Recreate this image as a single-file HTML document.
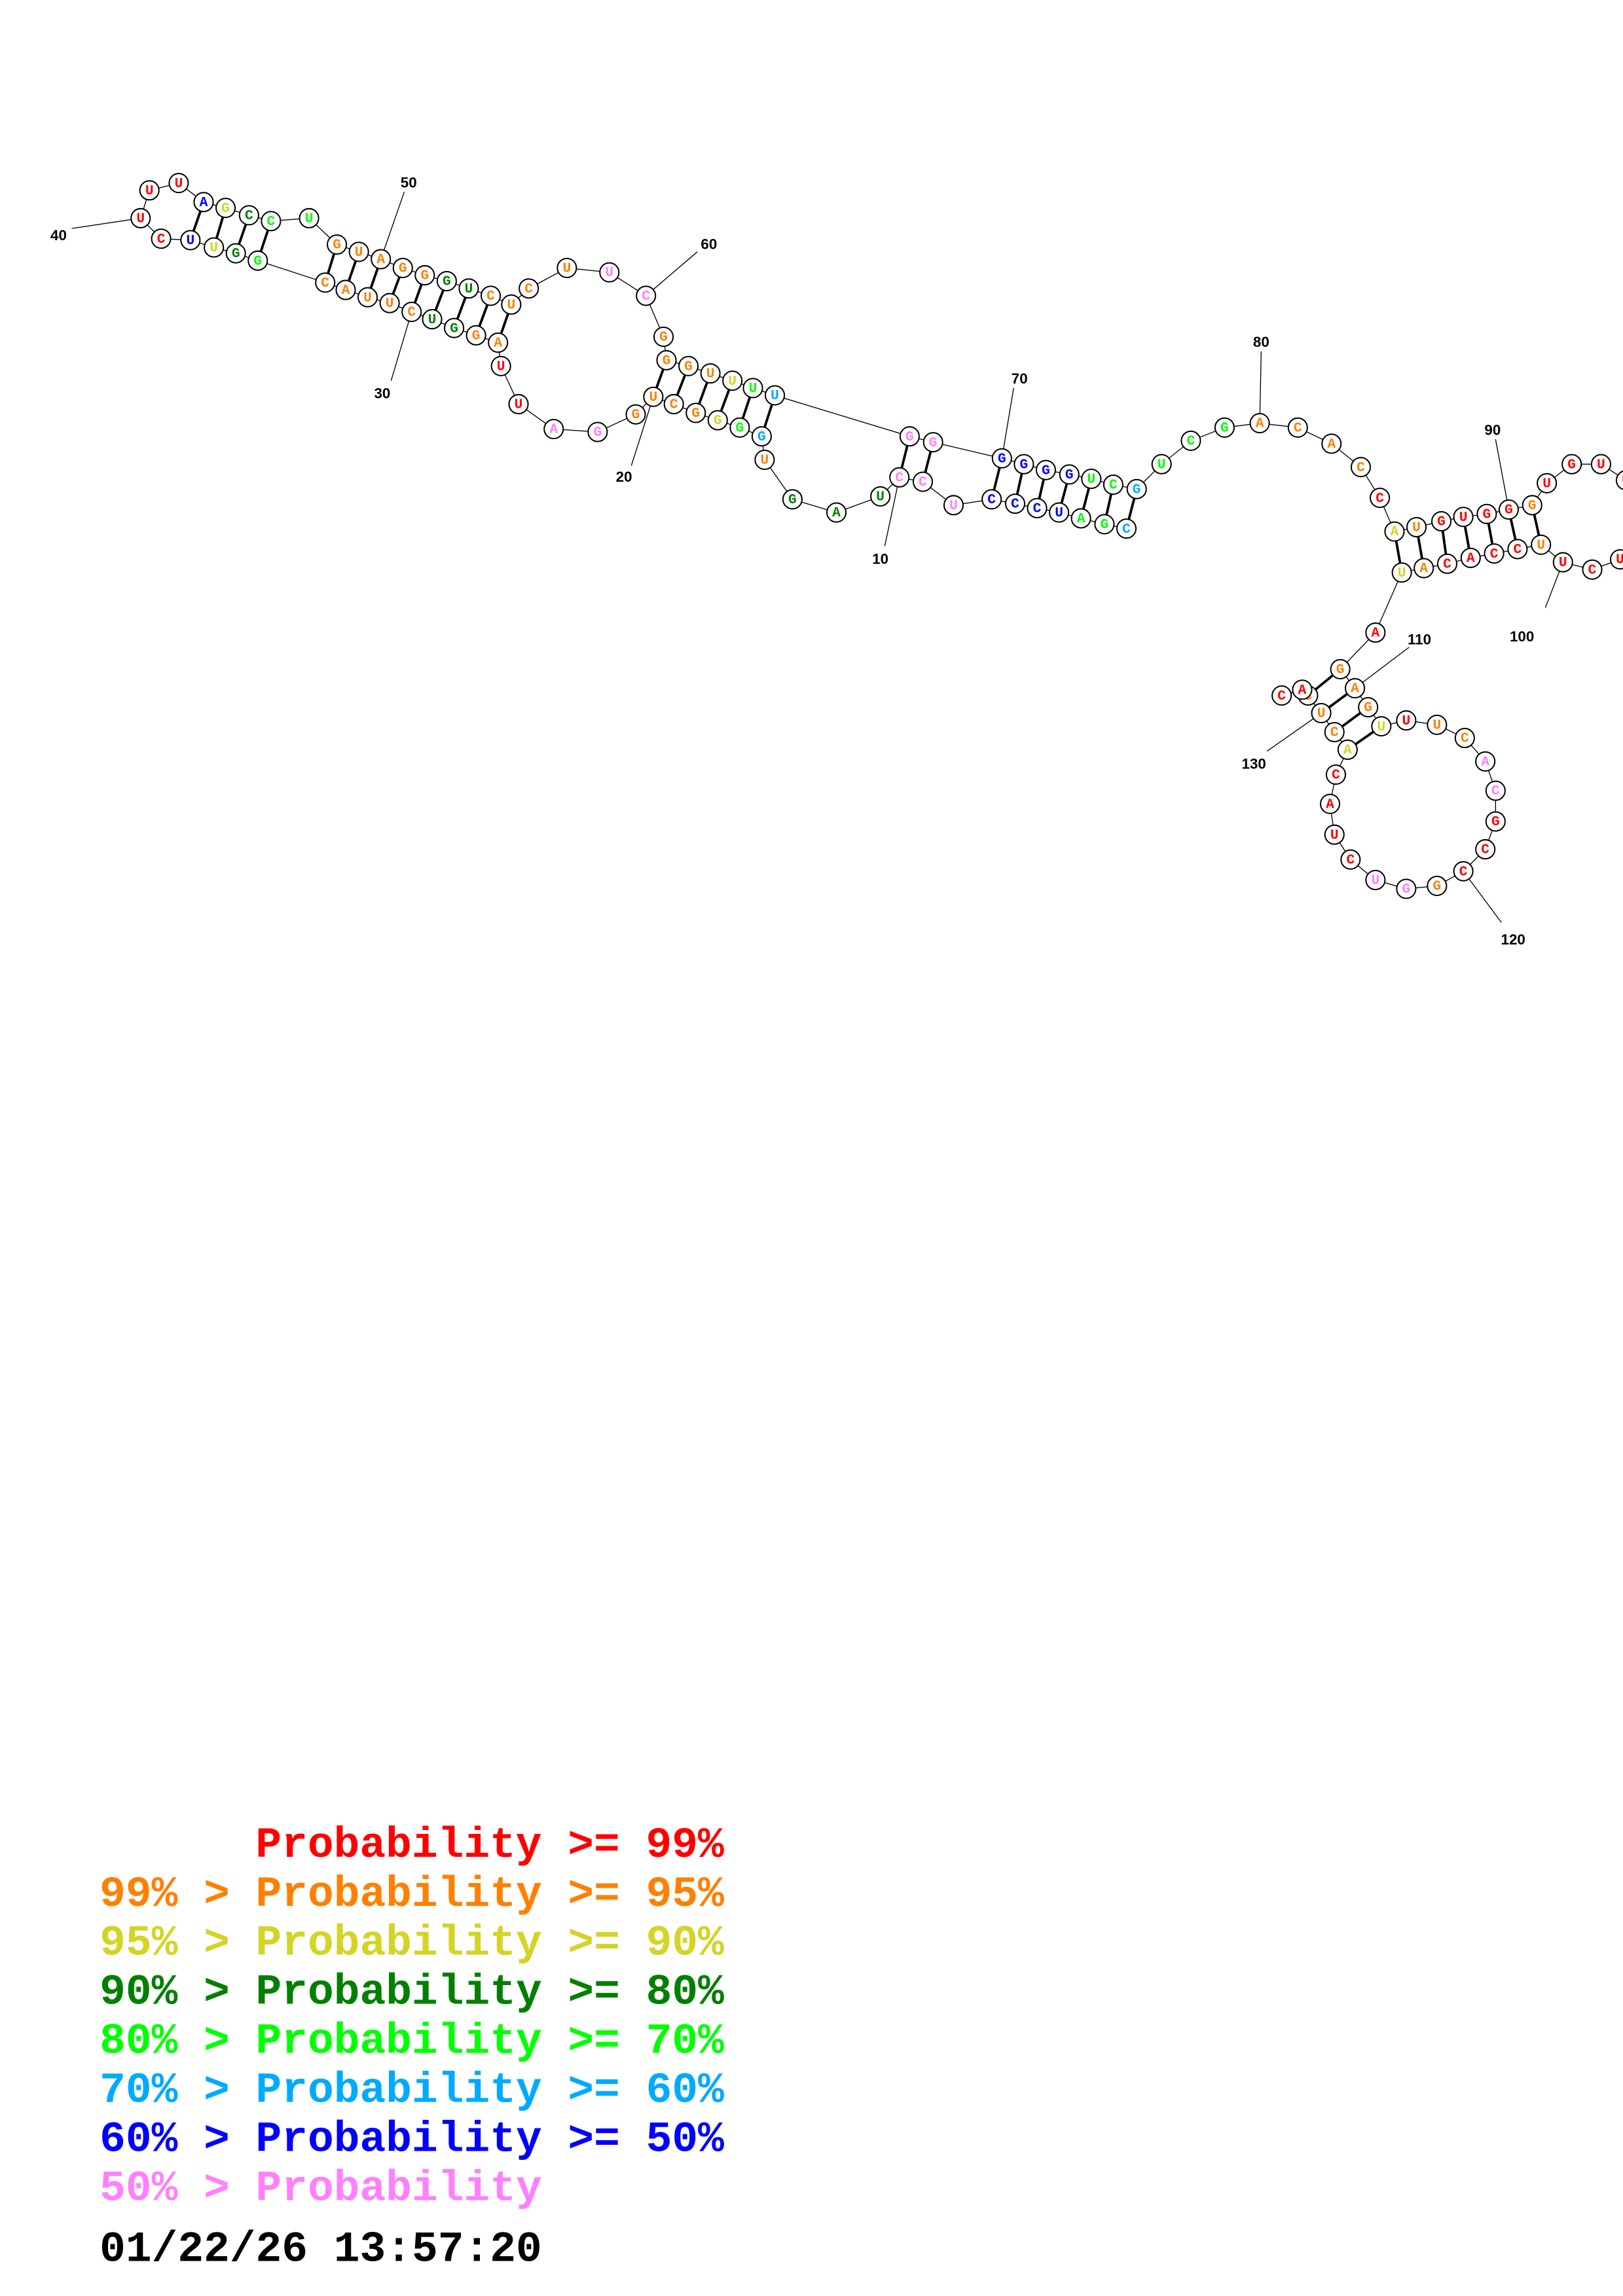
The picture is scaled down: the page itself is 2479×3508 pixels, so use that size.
<!DOCTYPE html>
<html><head><meta charset="utf-8"><style>
html,body{margin:0;padding:0;background:#fff;}
svg{display:block;}
.n circle{fill:#fff;stroke:#000;stroke-width:0.9;}
.n text{font-family:"Liberation Mono",monospace;font-weight:bold;font-size:9.5px;text-anchor:middle;dominant-baseline:central;}
.R{fill:#ff0000}.O{fill:#ff8000}.Y{fill:#d4d426}.D{fill:#008000}.G{fill:#00ff00}.L{fill:#00aaff}.B{fill:#0000ff}.P{fill:#ff80ff}.K{fill:#000}
.lbl{font-family:"Liberation Sans",sans-serif;font-weight:bold;font-size:10px;text-anchor:middle;fill:#000;}
.leg{font-family:"Liberation Mono",monospace;font-weight:bold;font-size:29.6px;}
</style></head><body>
<svg width="2479" height="3508" viewBox="0 0 1108 1568" preserveAspectRatio="none" xmlns="http://www.w3.org/2000/svg">
<rect width="1108" height="1568" fill="#fff"/>
<!-- label lines -->
<g stroke="#000" stroke-width="0.6">
<line x1="604" y1="373" x2="614" y2="326"/>
<line x1="431" y1="318" x2="446" y2="271"/>
<line x1="267" y1="260" x2="281" y2="213"/>
<line x1="49" y1="156" x2="96" y2="149"/>
<line x1="276" y1="131" x2="260" y2="177"/>
<line x1="476" y1="172" x2="441" y2="202"/>
<line x1="692" y1="265" x2="684" y2="313"/>
<line x1="861" y1="240" x2="860" y2="289"/>
<line x1="1021" y1="300" x2="1030" y2="348"/>
<line x1="1055" y1="415" x2="1067" y2="384"/>
<line x1="962" y1="442" x2="925" y2="470"/>
<line x1="1025" y1="630" x2="999" y2="595"/>
<line x1="865" y1="513" x2="902" y2="487"/>
</g>
<g class="lbl">
<text x="601" y="385">10</text><text x="426" y="329">20</text><text x="261" y="272">30</text>
<text x="40" y="164">40</text><text x="279" y="128">50</text><text x="484" y="170">60</text>
<text x="696" y="262">70</text><text x="861" y="237">80</text><text x="1019" y="297">90</text>
<text x="1039" y="438">100</text><text x="969" y="440">110</text><text x="1033" y="645">120</text><text x="856" y="525">130</text>
</g>
<!-- backbone -->
<polyline fill="none" stroke="#000" stroke-width="0.6" points="769,361 754,358 738,354 723,350 708,347 693,344 677,341 651,345 630,329 614,326 601,339 571,350 541,341 522,314 520,298 505,292 490,287 475,282 460,276 446,271 434,283 408,295 378,293 354,276 342,250 340,234 325,229 310,224 295,218 281,213 266,207 251,203 236,198 222,193 176,178 161,173 146,169 130,164 110,163 96,149 102,130 122,125 139,138 154,142 170,147 185,151 211,149 230,167 245,172 260,177 275,183 290,188 305,192 320,197 335,202 349,208 361,197 387,183 416,186 441,202 453,230 455,246 470,250 485,255 500,260 514,265 529,270 621,298 637,302 684,313 699,317 714,321 730,324 745,327 760,331 776,334 793,317 813,301 836,292 860,289 886,292 909,303 929,319 942,340 952,363 967,360 984,356 999,353 1015,351 1030,348 1046,345 1056,330 1073,317 1093,317 1110,328 1120,345 1120,365 1106,382 1087,389 1067,384 1052,372 1036,375 1020,378 1004,381 988,385 972,388 957,391 939,432 915,457 925,470 934,483 943,496 960,492 981,495 1000,504 1014,520 1021,540 1021,561 1014,580 999,595 981,605 960,607 939,601 922,587 911,570 908,549 912,529 920,512 911,500 902,487 893,475 889,471 875,475"/>
<!-- pairs -->
<g stroke="#000" stroke-width="1.7">
<line x1="769" y1="361" x2="776" y2="334"/><line x1="754" y1="358" x2="760" y2="331"/><line x1="738" y1="354" x2="745" y2="327"/><line x1="723" y1="350" x2="730" y2="324"/><line x1="708" y1="347" x2="714" y2="321"/><line x1="693" y1="344" x2="699" y2="317"/><line x1="677" y1="341" x2="684" y2="313"/>
<line x1="630" y1="329" x2="637" y2="302"/><line x1="614" y1="326" x2="621" y2="298"/>
<line x1="520" y1="298" x2="529" y2="270"/><line x1="505" y1="292" x2="514" y2="265"/><line x1="490" y1="287" x2="500" y2="260"/><line x1="475" y1="282" x2="485" y2="255"/><line x1="460" y1="276" x2="470" y2="250"/><line x1="446" y1="271" x2="455" y2="246"/>
<line x1="340" y1="234" x2="349" y2="208"/><line x1="325" y1="229" x2="335" y2="202"/><line x1="310" y1="224" x2="320" y2="197"/><line x1="295" y1="218" x2="305" y2="192"/><line x1="281" y1="213" x2="290" y2="188"/><line x1="266" y1="207" x2="275" y2="183"/><line x1="251" y1="203" x2="260" y2="177"/><line x1="236" y1="198" x2="245" y2="172"/><line x1="222" y1="193" x2="230" y2="167"/>
<line x1="176" y1="178" x2="185" y2="151"/><line x1="161" y1="173" x2="170" y2="147"/><line x1="146" y1="169" x2="154" y2="142"/><line x1="130" y1="164" x2="139" y2="138"/>
<line x1="952" y1="363" x2="957" y2="391"/><line x1="967" y1="360" x2="972" y2="388"/><line x1="984" y1="356" x2="988" y2="385"/><line x1="999" y1="353" x2="1004" y2="381"/><line x1="1015" y1="351" x2="1020" y2="378"/><line x1="1030" y1="348" x2="1036" y2="375"/><line x1="1046" y1="345" x2="1052" y2="372"/>
<line x1="915" y1="457" x2="893" y2="475"/><line x1="925" y1="470" x2="902" y2="487"/><line x1="934" y1="483" x2="911" y2="500"/><line x1="943" y1="496" x2="920" y2="512"/>
</g>
<!-- nodes -->
<g class="n">
<circle cx="769" cy="361" r="6.5"/><text x="769" y="361.5" class="L">C</text>
<circle cx="754" cy="358" r="6.5"/><text x="754" y="358.5" class="G">G</text>
<circle cx="738" cy="354" r="6.5"/><text x="738" y="354.5" class="G">A</text>
<circle cx="723" cy="350" r="6.5"/><text x="723" y="350.5" class="B">U</text>
<circle cx="708" cy="347" r="6.5"/><text x="708" y="347.5" class="B">C</text>
<circle cx="693" cy="344" r="6.5"/><text x="693" y="344.5" class="B">C</text>
<circle cx="677" cy="341" r="6.5"/><text x="677" y="341.5" class="B">C</text>
<circle cx="651" cy="345" r="6.5"/><text x="651" y="345.5" class="P">U</text>
<circle cx="630" cy="329" r="6.5"/><text x="630" y="329.5" class="P">C</text>
<circle cx="614" cy="326" r="6.5"/><text x="614" y="326.5" class="P">C</text>
<circle cx="601" cy="339" r="6.5"/><text x="601" y="339.5" class="D">U</text>
<circle cx="571" cy="350" r="6.5"/><text x="571" y="350.5" class="D">A</text>
<circle cx="541" cy="341" r="6.5"/><text x="541" y="341.5" class="D">G</text>
<circle cx="522" cy="314" r="6.5"/><text x="522" y="314.5" class="O">U</text>
<circle cx="520" cy="298" r="6.5"/><text x="520" y="298.5" class="L">G</text>
<circle cx="505" cy="292" r="6.5"/><text x="505" y="292.5" class="G">G</text>
<circle cx="490" cy="287" r="6.5"/><text x="490" y="287.5" class="Y">G</text>
<circle cx="475" cy="282" r="6.5"/><text x="475" y="282.5" class="O">G</text>
<circle cx="460" cy="276" r="6.5"/><text x="460" y="276.5" class="O">C</text>
<circle cx="446" cy="271" r="6.5"/><text x="446" y="271.5" class="O">U</text>
<circle cx="434" cy="283" r="6.5"/><text x="434" y="283.5" class="O">G</text>
<circle cx="408" cy="295" r="6.5"/><text x="408" y="295.5" class="P">G</text>
<circle cx="378" cy="293" r="6.5"/><text x="378" y="293.5" class="P">A</text>
<circle cx="354" cy="276" r="6.5"/><text x="354" y="276.5" class="R">U</text>
<circle cx="342" cy="250" r="6.5"/><text x="342" y="250.5" class="R">U</text>
<circle cx="340" cy="234" r="6.5"/><text x="340" y="234.5" class="O">A</text>
<circle cx="325" cy="229" r="6.5"/><text x="325" y="229.5" class="O">G</text>
<circle cx="310" cy="224" r="6.5"/><text x="310" y="224.5" class="D">G</text>
<circle cx="295" cy="218" r="6.5"/><text x="295" y="218.5" class="D">U</text>
<circle cx="281" cy="213" r="6.5"/><text x="281" y="213.5" class="O">C</text>
<circle cx="266" cy="207" r="6.5"/><text x="266" y="207.5" class="O">U</text>
<circle cx="251" cy="203" r="6.5"/><text x="251" y="203.5" class="O">U</text>
<circle cx="236" cy="198" r="6.5"/><text x="236" y="198.5" class="O">A</text>
<circle cx="222" cy="193" r="6.5"/><text x="222" y="193.5" class="O">C</text>
<circle cx="176" cy="178" r="6.5"/><text x="176" y="178.5" class="G">G</text>
<circle cx="161" cy="173" r="6.5"/><text x="161" y="173.5" class="D">G</text>
<circle cx="146" cy="169" r="6.5"/><text x="146" y="169.5" class="Y">U</text>
<circle cx="130" cy="164" r="6.5"/><text x="130" y="164.5" class="B">U</text>
<circle cx="110" cy="163" r="6.5"/><text x="110" y="163.5" class="R">C</text>
<circle cx="96" cy="149" r="6.5"/><text x="96" y="149.5" class="R">U</text>
<circle cx="102" cy="130" r="6.5"/><text x="102" y="130.5" class="R">U</text>
<circle cx="122" cy="125" r="6.5"/><text x="122" y="125.5" class="R">U</text>
<circle cx="139" cy="138" r="6.5"/><text x="139" y="138.5" class="B">A</text>
<circle cx="154" cy="142" r="6.5"/><text x="154" y="142.5" class="Y">G</text>
<circle cx="170" cy="147" r="6.5"/><text x="170" y="147.5" class="D">C</text>
<circle cx="185" cy="151" r="6.5"/><text x="185" y="151.5" class="G">C</text>
<circle cx="211" cy="149" r="6.5"/><text x="211" y="149.5" class="G">U</text>
<circle cx="230" cy="167" r="6.5"/><text x="230" y="167.5" class="O">G</text>
<circle cx="245" cy="172" r="6.5"/><text x="245" y="172.5" class="O">U</text>
<circle cx="260" cy="177" r="6.5"/><text x="260" y="177.5" class="O">A</text>
<circle cx="275" cy="183" r="6.5"/><text x="275" y="183.5" class="O">G</text>
<circle cx="290" cy="188" r="6.5"/><text x="290" y="188.5" class="O">G</text>
<circle cx="305" cy="192" r="6.5"/><text x="305" y="192.5" class="D">G</text>
<circle cx="320" cy="197" r="6.5"/><text x="320" y="197.5" class="D">U</text>
<circle cx="335" cy="202" r="6.5"/><text x="335" y="202.5" class="O">C</text>
<circle cx="349" cy="208" r="6.5"/><text x="349" y="208.5" class="O">U</text>
<circle cx="361" cy="197" r="6.5"/><text x="361" y="197.5" class="O">C</text>
<circle cx="387" cy="183" r="6.5"/><text x="387" y="183.5" class="O">U</text>
<circle cx="416" cy="186" r="6.5"/><text x="416" y="186.5" class="P">U</text>
<circle cx="441" cy="202" r="6.5"/><text x="441" y="202.5" class="P">C</text>
<circle cx="453" cy="230" r="6.5"/><text x="453" y="230.5" class="O">G</text>
<circle cx="455" cy="246" r="6.5"/><text x="455" y="246.5" class="O">G</text>
<circle cx="470" cy="250" r="6.5"/><text x="470" y="250.5" class="O">G</text>
<circle cx="485" cy="255" r="6.5"/><text x="485" y="255.5" class="O">U</text>
<circle cx="500" cy="260" r="6.5"/><text x="500" y="260.5" class="Y">U</text>
<circle cx="514" cy="265" r="6.5"/><text x="514" y="265.5" class="G">U</text>
<circle cx="529" cy="270" r="6.5"/><text x="529" y="270.5" class="L">U</text>
<circle cx="621" cy="298" r="6.5"/><text x="621" y="298.5" class="P">G</text>
<circle cx="637" cy="302" r="6.5"/><text x="637" y="302.5" class="P">G</text>
<circle cx="684" cy="313" r="6.5"/><text x="684" y="313.5" class="B">G</text>
<circle cx="699" cy="317" r="6.5"/><text x="699" y="317.5" class="B">G</text>
<circle cx="714" cy="321" r="6.5"/><text x="714" y="321.5" class="B">G</text>
<circle cx="730" cy="324" r="6.5"/><text x="730" y="324.5" class="B">G</text>
<circle cx="745" cy="327" r="6.5"/><text x="745" y="327.5" class="G">U</text>
<circle cx="760" cy="331" r="6.5"/><text x="760" y="331.5" class="G">C</text>
<circle cx="776" cy="334" r="6.5"/><text x="776" y="334.5" class="L">G</text>
<circle cx="793" cy="317" r="6.5"/><text x="793" y="317.5" class="G">U</text>
<circle cx="813" cy="301" r="6.5"/><text x="813" y="301.5" class="G">C</text>
<circle cx="836" cy="292" r="6.5"/><text x="836" y="292.5" class="G">G</text>
<circle cx="860" cy="289" r="6.5"/><text x="860" y="289.5" class="O">A</text>
<circle cx="886" cy="292" r="6.5"/><text x="886" y="292.5" class="O">C</text>
<circle cx="909" cy="303" r="6.5"/><text x="909" y="303.5" class="O">A</text>
<circle cx="929" cy="319" r="6.5"/><text x="929" y="319.5" class="O">C</text>
<circle cx="942" cy="340" r="6.5"/><text x="942" y="340.5" class="R">C</text>
<circle cx="952" cy="363" r="6.5"/><text x="952" y="363.5" class="Y">A</text>
<circle cx="967" cy="360" r="6.5"/><text x="967" y="360.5" class="O">U</text>
<circle cx="984" cy="356" r="6.5"/><text x="984" y="356.5" class="R">G</text>
<circle cx="999" cy="353" r="6.5"/><text x="999" y="353.5" class="R">U</text>
<circle cx="1015" cy="351" r="6.5"/><text x="1015" y="351.5" class="R">G</text>
<circle cx="1030" cy="348" r="6.5"/><text x="1030" y="348.5" class="R">G</text>
<circle cx="1046" cy="345" r="6.5"/><text x="1046" y="345.5" class="O">G</text>
<circle cx="1056" cy="330" r="6.5"/><text x="1056" y="330.5" class="R">U</text>
<circle cx="1073" cy="317" r="6.5"/><text x="1073" y="317.5" class="R">G</text>
<circle cx="1093" cy="317" r="6.5"/><text x="1093" y="317.5" class="R">U</text>
<circle cx="1110" cy="328" r="6.5"/><text x="1110" y="328.5" class="R">U</text>
<circle cx="1120" cy="345" r="6.5"/><text x="1120" y="345.5" class="R">C</text>
<circle cx="1120" cy="365" r="6.5"/><text x="1120" y="365.5" class="R">U</text>
<circle cx="1106" cy="382" r="6.5"/><text x="1106" y="382.5" class="R">U</text>
<circle cx="1087" cy="389" r="6.5"/><text x="1087" y="389.5" class="R">C</text>
<circle cx="1067" cy="384" r="6.5"/><text x="1067" y="384.5" class="R">U</text>
<circle cx="1052" cy="372" r="6.5"/><text x="1052" y="372.5" class="O">U</text>
<circle cx="1036" cy="375" r="6.5"/><text x="1036" y="375.5" class="R">C</text>
<circle cx="1020" cy="378" r="6.5"/><text x="1020" y="378.5" class="R">C</text>
<circle cx="1004" cy="381" r="6.5"/><text x="1004" y="381.5" class="R">A</text>
<circle cx="988" cy="385" r="6.5"/><text x="988" y="385.5" class="R">C</text>
<circle cx="972" cy="388" r="6.5"/><text x="972" y="388.5" class="O">A</text>
<circle cx="957" cy="391" r="6.5"/><text x="957" y="391.5" class="Y">U</text>
<circle cx="939" cy="432" r="6.5"/><text x="939" y="432.5" class="R">A</text>
<circle cx="915" cy="457" r="6.5"/><text x="915" y="457.5" class="O">G</text>
<circle cx="925" cy="470" r="6.5"/><text x="925" y="470.5" class="O">A</text>
<circle cx="934" cy="483" r="6.5"/><text x="934" y="483.5" class="O">G</text>
<circle cx="943" cy="496" r="6.5"/><text x="943" y="496.5" class="Y">U</text>
<circle cx="960" cy="492" r="6.5"/><text x="960" y="492.5" class="R">U</text>
<circle cx="981" cy="495" r="6.5"/><text x="981" y="495.5" class="O">U</text>
<circle cx="1000" cy="504" r="6.5"/><text x="1000" y="504.5" class="O">C</text>
<circle cx="1014" cy="520" r="6.5"/><text x="1014" y="520.5" class="P">A</text>
<circle cx="1021" cy="540" r="6.5"/><text x="1021" y="540.5" class="P">C</text>
<circle cx="1021" cy="561" r="6.5"/><text x="1021" y="561.5" class="R">G</text>
<circle cx="1014" cy="580" r="6.5"/><text x="1014" y="580.5" class="R">C</text>
<circle cx="999" cy="595" r="6.5"/><text x="999" y="595.5" class="R">C</text>
<circle cx="981" cy="605" r="6.5"/><text x="981" y="605.5" class="O">G</text>
<circle cx="960" cy="607" r="6.5"/><text x="960" y="607.5" class="P">G</text>
<circle cx="939" cy="601" r="6.5"/><text x="939" y="601.5" class="P">U</text>
<circle cx="922" cy="587" r="6.5"/><text x="922" y="587.5" class="R">C</text>
<circle cx="911" cy="570" r="6.5"/><text x="911" y="570.5" class="R">U</text>
<circle cx="908" cy="549" r="6.5"/><text x="908" y="549.5" class="R">A</text>
<circle cx="912" cy="529" r="6.5"/><text x="912" y="529.5" class="R">C</text>
<circle cx="920" cy="512" r="6.5"/><text x="920" y="512.5" class="Y">A</text>
<circle cx="911" cy="500" r="6.5"/><text x="911" y="500.5" class="O">C</text>
<circle cx="902" cy="487" r="6.5"/><text x="902" y="487.5" class="O">U</text>
<circle cx="893" cy="475" r="6.5"/><text x="893" y="475.5" class="O">C</text>
<circle cx="889" cy="471" r="6.5"/><text x="889" y="471.5" class="R">A</text>
<circle cx="875" cy="475" r="6.5"/><text x="875" y="475.5" class="R">C</text>
</g>
<!-- legend -->
<g class="leg">
<text x="174.5" y="1268" class="R">Probability &gt;= 99%</text>
<text x="68" y="1301.5" class="O">99% &gt; Probability &gt;= 95%</text>
<text x="68" y="1335" class="Y">95% &gt; Probability &gt;= 90%</text>
<text x="68" y="1368.5" class="D">90% &gt; Probability &gt;= 80%</text>
<text x="68" y="1402" class="G">80% &gt; Probability &gt;= 70%</text>
<text x="68" y="1435.5" class="L">70% &gt; Probability &gt;= 60%</text>
<text x="68" y="1469" class="B">60% &gt; Probability &gt;= 50%</text>
<text x="68" y="1502.5" class="P">50% &gt; Probability</text>
<text x="68" y="1544" class="K">01/22/26 13:57:20</text>
</g>
</svg>
</body></html>
